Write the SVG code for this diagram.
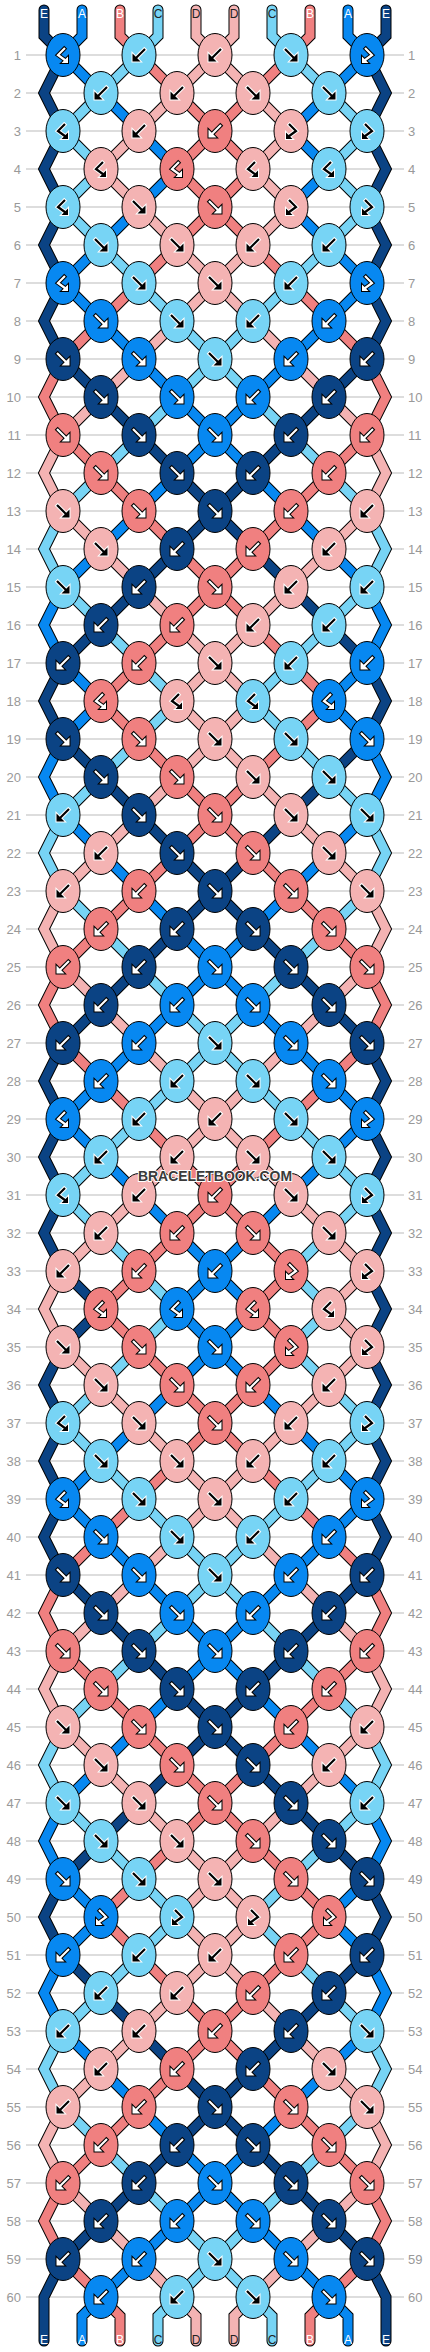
<svg xmlns="http://www.w3.org/2000/svg" xmlns:xlink="http://www.w3.org/1999/xlink" width="430" height="2352" viewBox="0 0 430 2352">
<style>
.o{fill:none;stroke:#000;stroke-width:11;stroke-linecap:round;stroke-linejoin:miter}
.s{fill:none;stroke-width:9;stroke-linecap:round;stroke-linejoin:miter}
.sN{stroke:#0B4384}.sA{stroke:#0788F1}.sB{stroke:#F08080}.sC{stroke:#77D4F5}.sD{stroke:#F4B3B3}
ellipse{stroke:#000;stroke-width:1}
.N{fill:#0B4384}.A{fill:#0788F1}.B{fill:#F08080}.C{fill:#77D4F5}.D{fill:#F4B3B3}
.w{color:#fff;fill:#000;stroke:#000}
.k{color:#000;fill:#fff;stroke:#fff}
.l,.r{font-family:"Liberation Sans",Arial,sans-serif;font-size:13px;fill:#999}
.l{text-anchor:end}
.t{font-family:"Liberation Sans",Arial,sans-serif;font-size:12px;text-anchor:middle}
.tw{fill:#fff}.tk{fill:#222}
</style>
<defs>
<g id="f"><path d="M-6.8,-6.8L3,3" fill="none" stroke-width="4.2"/><path d="M6.5,6.5V-1.5L-1.5,6.5Z" stroke-width="2"/><path d="M-6,-6L3,3" fill="none" stroke="currentColor" stroke-width="2.2"/><path d="M6.5,6.5V-1.5L-1.5,6.5Z" fill="currentColor" stroke="none"/></g>
<g id="b"><path d="M6.8,-6.8L-3,3" fill="none" stroke-width="4.2"/><path d="M-6.5,6.5V-1.5L1.5,6.5Z" stroke-width="2"/><path d="M6,-6L-3,3" fill="none" stroke="currentColor" stroke-width="2.2"/><path d="M-6.5,6.5V-1.5L1.5,6.5Z" fill="currentColor" stroke="none"/></g>
<g id="y"><path d="M2.7,-7.7L-5,0L2.5,5.5" fill="none" stroke-width="4.2"/><path d="M5,8V1.5L-1.5,8Z" stroke-width="2"/><path d="M2,-7L-5,0L2.5,5.5" fill="none" stroke="currentColor" stroke-width="2.2"/><path d="M5,8V1.5L-1.5,8Z" fill="currentColor" stroke="none"/></g>
<g id="x"><path d="M-2.7,-7.7L5,0L-2.5,5.5" fill="none" stroke-width="4.2"/><path d="M-5,8V1.5L1.5,8Z" stroke-width="2"/><path d="M-2,-7L5,0L-2.5,5.5" fill="none" stroke="currentColor" stroke-width="2.2"/><path d="M-5,8V1.5L1.5,8Z" fill="currentColor" stroke="none"/></g>
<polyline id="p0" points="44,10 44,36 63,55 44,93 63,131 44,169 63,207 44,245 63,283 44,321 63,359 101,397 139,435 177,473 215,511 253,549 291,587 329,625 367,663 386,701 367,739 329,777 291,815 253,853 215,891 177,929 139,967 101,1005 63,1043 44,1081 63,1119 44,1157 63,1195 44,1233 63,1271 101,1309 63,1347 44,1385 63,1423 44,1461 63,1499 44,1537 63,1575 101,1613 139,1651 177,1689 215,1727 253,1765 291,1803 329,1841 367,1879 386,1917 367,1955 329,1993 291,2031 253,2069 215,2107 177,2145 139,2183 101,2221 63,2259 44,2297 44,2341"/>
<polyline id="p1" points="82,10 82,36 63,55 101,93 139,131 177,169 139,207 101,245 63,283 101,321 139,359 177,397 215,435 253,473 291,511 329,549 367,587 386,625 367,663 329,701 367,739 386,777 367,815 329,853 291,891 253,929 215,967 177,1005 139,1043 101,1081 63,1119 101,1157 139,1195 177,1233 215,1271 253,1309 215,1347 177,1385 139,1423 101,1461 63,1499 101,1537 139,1575 177,1613 215,1651 253,1689 291,1727 329,1765 367,1803 386,1841 367,1879 329,1917 367,1955 386,1993 367,2031 329,2069 291,2107 253,2145 215,2183 177,2221 139,2259 101,2297 82,2316 82,2341"/>
<polyline id="p2" points="120,10 120,36 139,55 177,93 215,131 253,169 215,207 177,245 139,283 101,321 63,359 44,397 63,435 101,473 139,511 177,549 215,587 253,625 291,663 329,701 291,739 253,777 215,815 177,853 139,891 101,929 63,967 44,1005 63,1043 101,1081 139,1119 177,1157 215,1195 253,1233 291,1271 253,1309 291,1347 253,1385 215,1423 177,1461 139,1499 101,1537 63,1575 44,1613 63,1651 101,1689 139,1727 177,1765 215,1803 253,1841 291,1879 329,1917 291,1955 253,1993 215,2031 177,2069 139,2107 101,2145 63,2183 44,2221 63,2259 101,2297 120,2316 120,2341"/>
<polyline id="p3" points="158,10 158,36 139,55 101,93 63,131 101,169 63,207 101,245 139,283 177,321 215,359 253,397 291,435 329,473 367,511 386,549 367,587 329,625 291,663 253,701 291,739 329,777 367,815 386,853 367,891 329,929 291,967 253,1005 215,1043 177,1081 139,1119 101,1157 63,1195 101,1233 139,1271 177,1309 139,1347 101,1385 63,1423 101,1461 139,1499 177,1537 215,1575 253,1613 291,1651 329,1689 367,1727 386,1765 367,1803 329,1841 291,1879 253,1917 291,1955 329,1993 367,2031 386,2069 367,2107 329,2145 291,2183 253,2221 215,2259 177,2297 158,2316 158,2341"/>
<polyline id="p4" points="196,10 196,36 215,55 253,93 291,131 253,169 291,207 253,245 215,283 177,321 139,359 101,397 63,435 44,473 63,511 101,549 139,587 177,625 215,663 253,701 215,739 177,777 139,815 101,853 63,891 44,929 63,967 101,1005 139,1043 177,1081 215,1119 253,1157 291,1195 329,1233 367,1271 329,1309 367,1347 329,1385 291,1423 253,1461 215,1499 177,1537 139,1575 101,1613 63,1651 44,1689 63,1727 101,1765 139,1803 177,1841 215,1879 253,1917 215,1955 177,1993 139,2031 101,2069 63,2107 44,2145 63,2183 101,2221 139,2259 177,2297 196,2316 196,2341"/>
<polyline id="p5" points="234,10 234,36 215,55 177,93 139,131 101,169 139,207 177,245 215,283 253,321 291,359 329,397 367,435 386,473 367,511 329,549 291,587 253,625 215,663 177,701 215,739 253,777 291,815 329,853 367,891 386,929 367,967 329,1005 291,1043 253,1081 215,1119 177,1157 139,1195 101,1233 63,1271 44,1309 63,1347 101,1385 139,1423 177,1461 215,1499 253,1537 291,1575 329,1613 367,1651 386,1689 367,1727 329,1765 291,1803 253,1841 215,1879 177,1917 215,1955 253,1993 291,2031 329,2069 367,2107 386,2145 367,2183 329,2221 291,2259 253,2297 234,2316 234,2341"/>
<polyline id="p6" points="272,10 272,36 291,55 329,93 367,131 329,169 367,207 329,245 291,283 253,321 215,359 177,397 139,435 101,473 63,511 44,549 63,587 101,625 139,663 177,701 139,739 101,777 63,815 44,853 63,891 101,929 139,967 177,1005 215,1043 253,1081 291,1119 329,1157 367,1195 329,1233 291,1271 329,1309 291,1347 329,1385 367,1423 329,1461 291,1499 253,1537 215,1575 177,1613 139,1651 101,1689 63,1727 44,1765 63,1803 101,1841 139,1879 177,1917 139,1955 101,1993 63,2031 44,2069 63,2107 101,2145 139,2183 177,2221 215,2259 253,2297 272,2316 272,2341"/>
<polyline id="p7" points="310,10 310,36 291,55 253,93 215,131 177,169 215,207 253,245 291,283 329,321 367,359 386,397 367,435 329,473 291,511 253,549 215,587 177,625 139,663 101,701 139,739 177,777 215,815 253,853 291,891 329,929 367,967 386,1005 367,1043 329,1081 291,1119 253,1157 215,1195 177,1233 139,1271 101,1309 139,1347 177,1385 215,1423 253,1461 291,1499 329,1537 367,1575 386,1613 367,1651 329,1689 291,1727 253,1765 215,1803 177,1841 139,1879 101,1917 139,1955 177,1993 215,2031 253,2069 291,2107 329,2145 367,2183 386,2221 367,2259 329,2297 310,2316 310,2341"/>
<polyline id="p8" points="348,10 348,36 367,55 329,93 291,131 329,169 291,207 329,245 367,283 329,321 291,359 253,397 215,435 177,473 139,511 101,549 63,587 44,625 63,663 101,701 63,739 44,777 63,815 101,853 139,891 177,929 215,967 253,1005 291,1043 329,1081 367,1119 329,1157 291,1195 253,1233 215,1271 177,1309 215,1347 253,1385 291,1423 329,1461 367,1499 329,1537 291,1575 253,1613 215,1651 177,1689 139,1727 101,1765 63,1803 44,1841 63,1879 101,1917 63,1955 44,1993 63,2031 101,2069 139,2107 177,2145 215,2183 253,2221 291,2259 329,2297 348,2316 348,2341"/>
<polyline id="p9" points="386,10 386,36 367,55 386,93 367,131 386,169 367,207 386,245 367,283 386,321 367,359 329,397 291,435 253,473 215,511 177,549 139,587 101,625 63,663 44,701 63,739 101,777 139,815 177,853 215,891 253,929 291,967 329,1005 367,1043 386,1081 367,1119 386,1157 367,1195 386,1233 367,1271 386,1309 367,1347 386,1385 367,1423 386,1461 367,1499 386,1537 367,1575 329,1613 291,1651 253,1689 215,1727 177,1765 139,1803 101,1841 63,1879 44,1917 63,1955 101,1993 139,2031 177,2069 215,2107 253,2145 291,2183 329,2221 367,2259 386,2297 386,2341"/>
</defs>
<rect width="430" height="2352" fill="#fff"/>
<g id="grid">
<path fill="none" stroke="#bbb" stroke-width="1" d="M26,55H404M26,93H404M26,131H404M26,169H404M26,207H404M26,245H404M26,283H404M26,321H404M26,359H404M26,397H404M26,435H404M26,473H404M26,511H404M26,549H404M26,587H404M26,625H404M26,663H404M26,701H404M26,739H404M26,777H404M26,815H404M26,853H404M26,891H404M26,929H404M26,967H404M26,1005H404M26,1043H404M26,1081H404M26,1119H404M26,1157H404M26,1195H404M26,1233H404M26,1271H404M26,1309H404M26,1347H404M26,1385H404M26,1423H404M26,1461H404M26,1499H404M26,1537H404M26,1575H404M26,1613H404M26,1651H404M26,1689H404M26,1727H404M26,1765H404M26,1803H404M26,1841H404M26,1879H404M26,1917H404M26,1955H404M26,1993H404M26,2031H404M26,2069H404M26,2107H404M26,2145H404M26,2183H404M26,2221H404M26,2259H404M26,2297H404"/>
<text class="l" x="21" y="59.5">1</text><text class="r" x="408" y="59.5">1</text>
<text class="l" x="21" y="97.5">2</text><text class="r" x="408" y="97.5">2</text>
<text class="l" x="21" y="135.5">3</text><text class="r" x="408" y="135.5">3</text>
<text class="l" x="21" y="173.5">4</text><text class="r" x="408" y="173.5">4</text>
<text class="l" x="21" y="211.5">5</text><text class="r" x="408" y="211.5">5</text>
<text class="l" x="21" y="249.5">6</text><text class="r" x="408" y="249.5">6</text>
<text class="l" x="21" y="287.5">7</text><text class="r" x="408" y="287.5">7</text>
<text class="l" x="21" y="325.5">8</text><text class="r" x="408" y="325.5">8</text>
<text class="l" x="21" y="363.5">9</text><text class="r" x="408" y="363.5">9</text>
<text class="l" x="21" y="401.5">10</text><text class="r" x="408" y="401.5">10</text>
<text class="l" x="21" y="439.5">11</text><text class="r" x="408" y="439.5">11</text>
<text class="l" x="21" y="477.5">12</text><text class="r" x="408" y="477.5">12</text>
<text class="l" x="21" y="515.5">13</text><text class="r" x="408" y="515.5">13</text>
<text class="l" x="21" y="553.5">14</text><text class="r" x="408" y="553.5">14</text>
<text class="l" x="21" y="591.5">15</text><text class="r" x="408" y="591.5">15</text>
<text class="l" x="21" y="629.5">16</text><text class="r" x="408" y="629.5">16</text>
<text class="l" x="21" y="667.5">17</text><text class="r" x="408" y="667.5">17</text>
<text class="l" x="21" y="705.5">18</text><text class="r" x="408" y="705.5">18</text>
<text class="l" x="21" y="743.5">19</text><text class="r" x="408" y="743.5">19</text>
<text class="l" x="21" y="781.5">20</text><text class="r" x="408" y="781.5">20</text>
<text class="l" x="21" y="819.5">21</text><text class="r" x="408" y="819.5">21</text>
<text class="l" x="21" y="857.5">22</text><text class="r" x="408" y="857.5">22</text>
<text class="l" x="21" y="895.5">23</text><text class="r" x="408" y="895.5">23</text>
<text class="l" x="21" y="933.5">24</text><text class="r" x="408" y="933.5">24</text>
<text class="l" x="21" y="971.5">25</text><text class="r" x="408" y="971.5">25</text>
<text class="l" x="21" y="1009.5">26</text><text class="r" x="408" y="1009.5">26</text>
<text class="l" x="21" y="1047.5">27</text><text class="r" x="408" y="1047.5">27</text>
<text class="l" x="21" y="1085.5">28</text><text class="r" x="408" y="1085.5">28</text>
<text class="l" x="21" y="1123.5">29</text><text class="r" x="408" y="1123.5">29</text>
<text class="l" x="21" y="1161.5">30</text><text class="r" x="408" y="1161.5">30</text>
<text class="l" x="21" y="1199.5">31</text><text class="r" x="408" y="1199.5">31</text>
<text class="l" x="21" y="1237.5">32</text><text class="r" x="408" y="1237.5">32</text>
<text class="l" x="21" y="1275.5">33</text><text class="r" x="408" y="1275.5">33</text>
<text class="l" x="21" y="1313.5">34</text><text class="r" x="408" y="1313.5">34</text>
<text class="l" x="21" y="1351.5">35</text><text class="r" x="408" y="1351.5">35</text>
<text class="l" x="21" y="1389.5">36</text><text class="r" x="408" y="1389.5">36</text>
<text class="l" x="21" y="1427.5">37</text><text class="r" x="408" y="1427.5">37</text>
<text class="l" x="21" y="1465.5">38</text><text class="r" x="408" y="1465.5">38</text>
<text class="l" x="21" y="1503.5">39</text><text class="r" x="408" y="1503.5">39</text>
<text class="l" x="21" y="1541.5">40</text><text class="r" x="408" y="1541.5">40</text>
<text class="l" x="21" y="1579.5">41</text><text class="r" x="408" y="1579.5">41</text>
<text class="l" x="21" y="1617.5">42</text><text class="r" x="408" y="1617.5">42</text>
<text class="l" x="21" y="1655.5">43</text><text class="r" x="408" y="1655.5">43</text>
<text class="l" x="21" y="1693.5">44</text><text class="r" x="408" y="1693.5">44</text>
<text class="l" x="21" y="1731.5">45</text><text class="r" x="408" y="1731.5">45</text>
<text class="l" x="21" y="1769.5">46</text><text class="r" x="408" y="1769.5">46</text>
<text class="l" x="21" y="1807.5">47</text><text class="r" x="408" y="1807.5">47</text>
<text class="l" x="21" y="1845.5">48</text><text class="r" x="408" y="1845.5">48</text>
<text class="l" x="21" y="1883.5">49</text><text class="r" x="408" y="1883.5">49</text>
<text class="l" x="21" y="1921.5">50</text><text class="r" x="408" y="1921.5">50</text>
<text class="l" x="21" y="1959.5">51</text><text class="r" x="408" y="1959.5">51</text>
<text class="l" x="21" y="1997.5">52</text><text class="r" x="408" y="1997.5">52</text>
<text class="l" x="21" y="2035.5">53</text><text class="r" x="408" y="2035.5">53</text>
<text class="l" x="21" y="2073.5">54</text><text class="r" x="408" y="2073.5">54</text>
<text class="l" x="21" y="2111.5">55</text><text class="r" x="408" y="2111.5">55</text>
<text class="l" x="21" y="2149.5">56</text><text class="r" x="408" y="2149.5">56</text>
<text class="l" x="21" y="2187.5">57</text><text class="r" x="408" y="2187.5">57</text>
<text class="l" x="21" y="2225.5">58</text><text class="r" x="408" y="2225.5">58</text>
<text class="l" x="21" y="2263.5">59</text><text class="r" x="408" y="2263.5">59</text>
<text class="l" x="21" y="2301.5">60</text><text class="r" x="408" y="2301.5">60</text>
</g>
<g id="connectors">
<use href="#p0" class="o"/><use href="#p1" class="o"/><use href="#p2" class="o"/><use href="#p3" class="o"/><use href="#p4" class="o"/><use href="#p5" class="o"/><use href="#p6" class="o"/><use href="#p7" class="o"/><use href="#p8" class="o"/><use href="#p9" class="o"/>
<use href="#p0" class="s sN"/><use href="#p1" class="s sA"/><use href="#p2" class="s sB"/><use href="#p3" class="s sC"/><use href="#p4" class="s sD"/><use href="#p5" class="s sD"/><use href="#p6" class="s sC"/><use href="#p7" class="s sB"/><use href="#p8" class="s sA"/><use href="#p9" class="s sN"/>
</g>
<g id="labels">
<text class="t tw" x="44" y="17.5">E</text><text class="t tw" x="82" y="17.5">A</text><text class="t tw" x="120" y="17.5">B</text><text class="t tk" x="158" y="17.5">C</text><text class="t tk" x="196" y="17.5">D</text><text class="t tk" x="234" y="17.5">D</text><text class="t tk" x="272" y="17.5">C</text><text class="t tw" x="310" y="17.5">B</text><text class="t tw" x="348" y="17.5">A</text><text class="t tw" x="386" y="17.5">E</text>
<text class="t tw" x="44" y="2344">E</text><text class="t tw" x="82" y="2344">A</text><text class="t tw" x="120" y="2344">B</text><text class="t tk" x="158" y="2344">C</text><text class="t tk" x="196" y="2344">D</text><text class="t tk" x="234" y="2344">D</text><text class="t tk" x="272" y="2344">C</text><text class="t tw" x="310" y="2344">B</text><text class="t tw" x="348" y="2344">A</text><text class="t tw" x="386" y="2344">E</text>
</g>
<g id="knots">
<g id="k1_1" transform="translate(63 55)"><ellipse class="A" rx="17" ry="21.5"/><use href="#y" class="w"/></g>
<g id="k1_2" transform="translate(139 55)"><ellipse class="C" rx="17" ry="21.5"/><use href="#b" class="k"/></g>
<g id="k1_3" transform="translate(215 55)"><ellipse class="D" rx="17" ry="21.5"/><use href="#b" class="k"/></g>
<g id="k1_4" transform="translate(291 55)"><ellipse class="C" rx="17" ry="21.5"/><use href="#f" class="k"/></g>
<g id="k1_5" transform="translate(367 55)"><ellipse class="A" rx="17" ry="21.5"/><use href="#x" class="w"/></g>
<g id="k2_1" transform="translate(101 93)"><ellipse class="C" rx="17" ry="21.5"/><use href="#b" class="k"/></g>
<g id="k2_2" transform="translate(177 93)"><ellipse class="D" rx="17" ry="21.5"/><use href="#b" class="k"/></g>
<g id="k2_3" transform="translate(253 93)"><ellipse class="D" rx="17" ry="21.5"/><use href="#f" class="k"/></g>
<g id="k2_4" transform="translate(329 93)"><ellipse class="C" rx="17" ry="21.5"/><use href="#f" class="k"/></g>
<g id="k3_1" transform="translate(63 131)"><ellipse class="C" rx="17" ry="21.5"/><use href="#y" class="k"/></g>
<g id="k3_2" transform="translate(139 131)"><ellipse class="D" rx="17" ry="21.5"/><use href="#b" class="k"/></g>
<g id="k3_3" transform="translate(215 131)"><ellipse class="B" rx="17" ry="21.5"/><use href="#b" class="w"/></g>
<g id="k3_4" transform="translate(291 131)"><ellipse class="D" rx="17" ry="21.5"/><use href="#x" class="k"/></g>
<g id="k3_5" transform="translate(367 131)"><ellipse class="C" rx="17" ry="21.5"/><use href="#x" class="k"/></g>
<g id="k4_1" transform="translate(101 169)"><ellipse class="D" rx="17" ry="21.5"/><use href="#y" class="k"/></g>
<g id="k4_2" transform="translate(177 169)"><ellipse class="B" rx="17" ry="21.5"/><use href="#y" class="w"/></g>
<g id="k4_3" transform="translate(253 169)"><ellipse class="D" rx="17" ry="21.5"/><use href="#y" class="k"/></g>
<g id="k4_4" transform="translate(329 169)"><ellipse class="C" rx="17" ry="21.5"/><use href="#y" class="k"/></g>
<g id="k5_1" transform="translate(63 207)"><ellipse class="C" rx="17" ry="21.5"/><use href="#y" class="k"/></g>
<g id="k5_2" transform="translate(139 207)"><ellipse class="D" rx="17" ry="21.5"/><use href="#f" class="k"/></g>
<g id="k5_3" transform="translate(215 207)"><ellipse class="B" rx="17" ry="21.5"/><use href="#f" class="w"/></g>
<g id="k5_4" transform="translate(291 207)"><ellipse class="D" rx="17" ry="21.5"/><use href="#x" class="k"/></g>
<g id="k5_5" transform="translate(367 207)"><ellipse class="C" rx="17" ry="21.5"/><use href="#x" class="k"/></g>
<g id="k6_1" transform="translate(101 245)"><ellipse class="C" rx="17" ry="21.5"/><use href="#f" class="k"/></g>
<g id="k6_2" transform="translate(177 245)"><ellipse class="D" rx="17" ry="21.5"/><use href="#f" class="k"/></g>
<g id="k6_3" transform="translate(253 245)"><ellipse class="D" rx="17" ry="21.5"/><use href="#b" class="k"/></g>
<g id="k6_4" transform="translate(329 245)"><ellipse class="C" rx="17" ry="21.5"/><use href="#b" class="k"/></g>
<g id="k7_1" transform="translate(63 283)"><ellipse class="A" rx="17" ry="21.5"/><use href="#y" class="w"/></g>
<g id="k7_2" transform="translate(139 283)"><ellipse class="C" rx="17" ry="21.5"/><use href="#f" class="k"/></g>
<g id="k7_3" transform="translate(215 283)"><ellipse class="D" rx="17" ry="21.5"/><use href="#f" class="k"/></g>
<g id="k7_4" transform="translate(291 283)"><ellipse class="C" rx="17" ry="21.5"/><use href="#b" class="k"/></g>
<g id="k7_5" transform="translate(367 283)"><ellipse class="A" rx="17" ry="21.5"/><use href="#x" class="w"/></g>
<g id="k8_1" transform="translate(101 321)"><ellipse class="A" rx="17" ry="21.5"/><use href="#f" class="w"/></g>
<g id="k8_2" transform="translate(177 321)"><ellipse class="C" rx="17" ry="21.5"/><use href="#f" class="k"/></g>
<g id="k8_3" transform="translate(253 321)"><ellipse class="C" rx="17" ry="21.5"/><use href="#b" class="k"/></g>
<g id="k8_4" transform="translate(329 321)"><ellipse class="A" rx="17" ry="21.5"/><use href="#b" class="w"/></g>
<g id="k9_1" transform="translate(63 359)"><ellipse class="N" rx="17" ry="21.5"/><use href="#f" class="w"/></g>
<g id="k9_2" transform="translate(139 359)"><ellipse class="A" rx="17" ry="21.5"/><use href="#f" class="w"/></g>
<g id="k9_3" transform="translate(215 359)"><ellipse class="C" rx="17" ry="21.5"/><use href="#f" class="k"/></g>
<g id="k9_4" transform="translate(291 359)"><ellipse class="A" rx="17" ry="21.5"/><use href="#b" class="w"/></g>
<g id="k9_5" transform="translate(367 359)"><ellipse class="N" rx="17" ry="21.5"/><use href="#b" class="w"/></g>
<g id="k10_1" transform="translate(101 397)"><ellipse class="N" rx="17" ry="21.5"/><use href="#f" class="w"/></g>
<g id="k10_2" transform="translate(177 397)"><ellipse class="A" rx="17" ry="21.5"/><use href="#f" class="w"/></g>
<g id="k10_3" transform="translate(253 397)"><ellipse class="A" rx="17" ry="21.5"/><use href="#b" class="w"/></g>
<g id="k10_4" transform="translate(329 397)"><ellipse class="N" rx="17" ry="21.5"/><use href="#b" class="w"/></g>
<g id="k11_1" transform="translate(63 435)"><ellipse class="B" rx="17" ry="21.5"/><use href="#f" class="w"/></g>
<g id="k11_2" transform="translate(139 435)"><ellipse class="N" rx="17" ry="21.5"/><use href="#f" class="w"/></g>
<g id="k11_3" transform="translate(215 435)"><ellipse class="A" rx="17" ry="21.5"/><use href="#f" class="w"/></g>
<g id="k11_4" transform="translate(291 435)"><ellipse class="N" rx="17" ry="21.5"/><use href="#b" class="w"/></g>
<g id="k11_5" transform="translate(367 435)"><ellipse class="B" rx="17" ry="21.5"/><use href="#b" class="w"/></g>
<g id="k12_1" transform="translate(101 473)"><ellipse class="B" rx="17" ry="21.5"/><use href="#f" class="w"/></g>
<g id="k12_2" transform="translate(177 473)"><ellipse class="N" rx="17" ry="21.5"/><use href="#f" class="w"/></g>
<g id="k12_3" transform="translate(253 473)"><ellipse class="N" rx="17" ry="21.5"/><use href="#b" class="w"/></g>
<g id="k12_4" transform="translate(329 473)"><ellipse class="B" rx="17" ry="21.5"/><use href="#b" class="w"/></g>
<g id="k13_1" transform="translate(63 511)"><ellipse class="D" rx="17" ry="21.5"/><use href="#f" class="k"/></g>
<g id="k13_2" transform="translate(139 511)"><ellipse class="B" rx="17" ry="21.5"/><use href="#f" class="w"/></g>
<g id="k13_3" transform="translate(215 511)"><ellipse class="N" rx="17" ry="21.5"/><use href="#f" class="w"/></g>
<g id="k13_4" transform="translate(291 511)"><ellipse class="B" rx="17" ry="21.5"/><use href="#b" class="w"/></g>
<g id="k13_5" transform="translate(367 511)"><ellipse class="D" rx="17" ry="21.5"/><use href="#b" class="k"/></g>
<g id="k14_1" transform="translate(101 549)"><ellipse class="D" rx="17" ry="21.5"/><use href="#f" class="k"/></g>
<g id="k14_2" transform="translate(177 549)"><ellipse class="N" rx="17" ry="21.5"/><use href="#b" class="w"/></g>
<g id="k14_3" transform="translate(253 549)"><ellipse class="B" rx="17" ry="21.5"/><use href="#b" class="w"/></g>
<g id="k14_4" transform="translate(329 549)"><ellipse class="D" rx="17" ry="21.5"/><use href="#b" class="k"/></g>
<g id="k15_1" transform="translate(63 587)"><ellipse class="C" rx="17" ry="21.5"/><use href="#f" class="k"/></g>
<g id="k15_2" transform="translate(139 587)"><ellipse class="N" rx="17" ry="21.5"/><use href="#b" class="w"/></g>
<g id="k15_3" transform="translate(215 587)"><ellipse class="B" rx="17" ry="21.5"/><use href="#f" class="w"/></g>
<g id="k15_4" transform="translate(291 587)"><ellipse class="D" rx="17" ry="21.5"/><use href="#b" class="k"/></g>
<g id="k15_5" transform="translate(367 587)"><ellipse class="C" rx="17" ry="21.5"/><use href="#b" class="k"/></g>
<g id="k16_1" transform="translate(101 625)"><ellipse class="N" rx="17" ry="21.5"/><use href="#b" class="w"/></g>
<g id="k16_2" transform="translate(177 625)"><ellipse class="B" rx="17" ry="21.5"/><use href="#b" class="w"/></g>
<g id="k16_3" transform="translate(253 625)"><ellipse class="D" rx="17" ry="21.5"/><use href="#b" class="k"/></g>
<g id="k16_4" transform="translate(329 625)"><ellipse class="C" rx="17" ry="21.5"/><use href="#b" class="k"/></g>
<g id="k17_1" transform="translate(63 663)"><ellipse class="N" rx="17" ry="21.5"/><use href="#b" class="w"/></g>
<g id="k17_2" transform="translate(139 663)"><ellipse class="B" rx="17" ry="21.5"/><use href="#b" class="w"/></g>
<g id="k17_3" transform="translate(215 663)"><ellipse class="D" rx="17" ry="21.5"/><use href="#f" class="k"/></g>
<g id="k17_4" transform="translate(291 663)"><ellipse class="C" rx="17" ry="21.5"/><use href="#b" class="k"/></g>
<g id="k17_5" transform="translate(367 663)"><ellipse class="A" rx="17" ry="21.5"/><use href="#b" class="w"/></g>
<g id="k18_1" transform="translate(101 701)"><ellipse class="B" rx="17" ry="21.5"/><use href="#y" class="w"/></g>
<g id="k18_2" transform="translate(177 701)"><ellipse class="D" rx="17" ry="21.5"/><use href="#y" class="k"/></g>
<g id="k18_3" transform="translate(253 701)"><ellipse class="C" rx="17" ry="21.5"/><use href="#y" class="k"/></g>
<g id="k18_4" transform="translate(329 701)"><ellipse class="A" rx="17" ry="21.5"/><use href="#y" class="w"/></g>
<g id="k19_1" transform="translate(63 739)"><ellipse class="N" rx="17" ry="21.5"/><use href="#f" class="w"/></g>
<g id="k19_2" transform="translate(139 739)"><ellipse class="B" rx="17" ry="21.5"/><use href="#f" class="w"/></g>
<g id="k19_3" transform="translate(215 739)"><ellipse class="D" rx="17" ry="21.5"/><use href="#f" class="k"/></g>
<g id="k19_4" transform="translate(291 739)"><ellipse class="C" rx="17" ry="21.5"/><use href="#f" class="k"/></g>
<g id="k19_5" transform="translate(367 739)"><ellipse class="A" rx="17" ry="21.5"/><use href="#f" class="w"/></g>
<g id="k20_1" transform="translate(101 777)"><ellipse class="N" rx="17" ry="21.5"/><use href="#f" class="w"/></g>
<g id="k20_2" transform="translate(177 777)"><ellipse class="B" rx="17" ry="21.5"/><use href="#f" class="w"/></g>
<g id="k20_3" transform="translate(253 777)"><ellipse class="D" rx="17" ry="21.5"/><use href="#f" class="k"/></g>
<g id="k20_4" transform="translate(329 777)"><ellipse class="C" rx="17" ry="21.5"/><use href="#f" class="k"/></g>
<g id="k21_1" transform="translate(63 815)"><ellipse class="C" rx="17" ry="21.5"/><use href="#b" class="k"/></g>
<g id="k21_2" transform="translate(139 815)"><ellipse class="N" rx="17" ry="21.5"/><use href="#f" class="w"/></g>
<g id="k21_3" transform="translate(215 815)"><ellipse class="B" rx="17" ry="21.5"/><use href="#f" class="w"/></g>
<g id="k21_4" transform="translate(291 815)"><ellipse class="D" rx="17" ry="21.5"/><use href="#f" class="k"/></g>
<g id="k21_5" transform="translate(367 815)"><ellipse class="C" rx="17" ry="21.5"/><use href="#f" class="k"/></g>
<g id="k22_1" transform="translate(101 853)"><ellipse class="D" rx="17" ry="21.5"/><use href="#b" class="k"/></g>
<g id="k22_2" transform="translate(177 853)"><ellipse class="N" rx="17" ry="21.5"/><use href="#f" class="w"/></g>
<g id="k22_3" transform="translate(253 853)"><ellipse class="B" rx="17" ry="21.5"/><use href="#f" class="w"/></g>
<g id="k22_4" transform="translate(329 853)"><ellipse class="D" rx="17" ry="21.5"/><use href="#f" class="k"/></g>
<g id="k23_1" transform="translate(63 891)"><ellipse class="D" rx="17" ry="21.5"/><use href="#b" class="k"/></g>
<g id="k23_2" transform="translate(139 891)"><ellipse class="B" rx="17" ry="21.5"/><use href="#b" class="w"/></g>
<g id="k23_3" transform="translate(215 891)"><ellipse class="N" rx="17" ry="21.5"/><use href="#f" class="w"/></g>
<g id="k23_4" transform="translate(291 891)"><ellipse class="B" rx="17" ry="21.5"/><use href="#f" class="w"/></g>
<g id="k23_5" transform="translate(367 891)"><ellipse class="D" rx="17" ry="21.5"/><use href="#f" class="k"/></g>
<g id="k24_1" transform="translate(101 929)"><ellipse class="B" rx="17" ry="21.5"/><use href="#b" class="w"/></g>
<g id="k24_2" transform="translate(177 929)"><ellipse class="N" rx="17" ry="21.5"/><use href="#b" class="w"/></g>
<g id="k24_3" transform="translate(253 929)"><ellipse class="N" rx="17" ry="21.5"/><use href="#f" class="w"/></g>
<g id="k24_4" transform="translate(329 929)"><ellipse class="B" rx="17" ry="21.5"/><use href="#f" class="w"/></g>
<g id="k25_1" transform="translate(63 967)"><ellipse class="B" rx="17" ry="21.5"/><use href="#b" class="w"/></g>
<g id="k25_2" transform="translate(139 967)"><ellipse class="N" rx="17" ry="21.5"/><use href="#b" class="w"/></g>
<g id="k25_3" transform="translate(215 967)"><ellipse class="A" rx="17" ry="21.5"/><use href="#f" class="w"/></g>
<g id="k25_4" transform="translate(291 967)"><ellipse class="N" rx="17" ry="21.5"/><use href="#f" class="w"/></g>
<g id="k25_5" transform="translate(367 967)"><ellipse class="B" rx="17" ry="21.5"/><use href="#f" class="w"/></g>
<g id="k26_1" transform="translate(101 1005)"><ellipse class="N" rx="17" ry="21.5"/><use href="#b" class="w"/></g>
<g id="k26_2" transform="translate(177 1005)"><ellipse class="A" rx="17" ry="21.5"/><use href="#b" class="w"/></g>
<g id="k26_3" transform="translate(253 1005)"><ellipse class="A" rx="17" ry="21.5"/><use href="#f" class="w"/></g>
<g id="k26_4" transform="translate(329 1005)"><ellipse class="N" rx="17" ry="21.5"/><use href="#f" class="w"/></g>
<g id="k27_1" transform="translate(63 1043)"><ellipse class="N" rx="17" ry="21.5"/><use href="#b" class="w"/></g>
<g id="k27_2" transform="translate(139 1043)"><ellipse class="A" rx="17" ry="21.5"/><use href="#b" class="w"/></g>
<g id="k27_3" transform="translate(215 1043)"><ellipse class="C" rx="17" ry="21.5"/><use href="#f" class="k"/></g>
<g id="k27_4" transform="translate(291 1043)"><ellipse class="A" rx="17" ry="21.5"/><use href="#f" class="w"/></g>
<g id="k27_5" transform="translate(367 1043)"><ellipse class="N" rx="17" ry="21.5"/><use href="#f" class="w"/></g>
<g id="k28_1" transform="translate(101 1081)"><ellipse class="A" rx="17" ry="21.5"/><use href="#b" class="w"/></g>
<g id="k28_2" transform="translate(177 1081)"><ellipse class="C" rx="17" ry="21.5"/><use href="#b" class="k"/></g>
<g id="k28_3" transform="translate(253 1081)"><ellipse class="C" rx="17" ry="21.5"/><use href="#f" class="k"/></g>
<g id="k28_4" transform="translate(329 1081)"><ellipse class="A" rx="17" ry="21.5"/><use href="#f" class="w"/></g>
<g id="k29_1" transform="translate(63 1119)"><ellipse class="A" rx="17" ry="21.5"/><use href="#y" class="w"/></g>
<g id="k29_2" transform="translate(139 1119)"><ellipse class="C" rx="17" ry="21.5"/><use href="#b" class="k"/></g>
<g id="k29_3" transform="translate(215 1119)"><ellipse class="D" rx="17" ry="21.5"/><use href="#b" class="k"/></g>
<g id="k29_4" transform="translate(291 1119)"><ellipse class="C" rx="17" ry="21.5"/><use href="#f" class="k"/></g>
<g id="k29_5" transform="translate(367 1119)"><ellipse class="A" rx="17" ry="21.5"/><use href="#x" class="w"/></g>
<g id="k30_1" transform="translate(101 1157)"><ellipse class="C" rx="17" ry="21.5"/><use href="#b" class="k"/></g>
<g id="k30_2" transform="translate(177 1157)"><ellipse class="D" rx="17" ry="21.5"/><use href="#b" class="k"/></g>
<g id="k30_3" transform="translate(253 1157)"><ellipse class="D" rx="17" ry="21.5"/><use href="#f" class="k"/></g>
<g id="k30_4" transform="translate(329 1157)"><ellipse class="C" rx="17" ry="21.5"/><use href="#f" class="k"/></g>
<g id="k31_1" transform="translate(63 1195)"><ellipse class="C" rx="17" ry="21.5"/><use href="#y" class="k"/></g>
<g id="k31_2" transform="translate(139 1195)"><ellipse class="D" rx="17" ry="21.5"/><use href="#b" class="k"/></g>
<g id="k31_3" transform="translate(215 1195)"><ellipse class="B" rx="17" ry="21.5"/><use href="#b" class="w"/></g>
<g id="k31_4" transform="translate(291 1195)"><ellipse class="D" rx="17" ry="21.5"/><use href="#f" class="k"/></g>
<g id="k31_5" transform="translate(367 1195)"><ellipse class="C" rx="17" ry="21.5"/><use href="#x" class="k"/></g>
<g id="k32_1" transform="translate(101 1233)"><ellipse class="D" rx="17" ry="21.5"/><use href="#b" class="k"/></g>
<g id="k32_2" transform="translate(177 1233)"><ellipse class="B" rx="17" ry="21.5"/><use href="#b" class="w"/></g>
<g id="k32_3" transform="translate(253 1233)"><ellipse class="B" rx="17" ry="21.5"/><use href="#f" class="w"/></g>
<g id="k32_4" transform="translate(329 1233)"><ellipse class="D" rx="17" ry="21.5"/><use href="#f" class="k"/></g>
<g id="k33_1" transform="translate(63 1271)"><ellipse class="D" rx="17" ry="21.5"/><use href="#b" class="k"/></g>
<g id="k33_2" transform="translate(139 1271)"><ellipse class="B" rx="17" ry="21.5"/><use href="#b" class="w"/></g>
<g id="k33_3" transform="translate(215 1271)"><ellipse class="A" rx="17" ry="21.5"/><use href="#b" class="w"/></g>
<g id="k33_4" transform="translate(291 1271)"><ellipse class="B" rx="17" ry="21.5"/><use href="#x" class="w"/></g>
<g id="k33_5" transform="translate(367 1271)"><ellipse class="D" rx="17" ry="21.5"/><use href="#x" class="k"/></g>
<g id="k34_1" transform="translate(101 1309)"><ellipse class="B" rx="17" ry="21.5"/><use href="#y" class="w"/></g>
<g id="k34_2" transform="translate(177 1309)"><ellipse class="A" rx="17" ry="21.5"/><use href="#y" class="w"/></g>
<g id="k34_3" transform="translate(253 1309)"><ellipse class="B" rx="17" ry="21.5"/><use href="#y" class="w"/></g>
<g id="k34_4" transform="translate(329 1309)"><ellipse class="D" rx="17" ry="21.5"/><use href="#y" class="k"/></g>
<g id="k35_1" transform="translate(63 1347)"><ellipse class="D" rx="17" ry="21.5"/><use href="#f" class="k"/></g>
<g id="k35_2" transform="translate(139 1347)"><ellipse class="B" rx="17" ry="21.5"/><use href="#f" class="w"/></g>
<g id="k35_3" transform="translate(215 1347)"><ellipse class="A" rx="17" ry="21.5"/><use href="#f" class="w"/></g>
<g id="k35_4" transform="translate(291 1347)"><ellipse class="B" rx="17" ry="21.5"/><use href="#x" class="w"/></g>
<g id="k35_5" transform="translate(367 1347)"><ellipse class="D" rx="17" ry="21.5"/><use href="#x" class="k"/></g>
<g id="k36_1" transform="translate(101 1385)"><ellipse class="D" rx="17" ry="21.5"/><use href="#f" class="k"/></g>
<g id="k36_2" transform="translate(177 1385)"><ellipse class="B" rx="17" ry="21.5"/><use href="#f" class="w"/></g>
<g id="k36_3" transform="translate(253 1385)"><ellipse class="B" rx="17" ry="21.5"/><use href="#b" class="w"/></g>
<g id="k36_4" transform="translate(329 1385)"><ellipse class="D" rx="17" ry="21.5"/><use href="#b" class="k"/></g>
<g id="k37_1" transform="translate(63 1423)"><ellipse class="C" rx="17" ry="21.5"/><use href="#y" class="k"/></g>
<g id="k37_2" transform="translate(139 1423)"><ellipse class="D" rx="17" ry="21.5"/><use href="#f" class="k"/></g>
<g id="k37_3" transform="translate(215 1423)"><ellipse class="B" rx="17" ry="21.5"/><use href="#f" class="w"/></g>
<g id="k37_4" transform="translate(291 1423)"><ellipse class="D" rx="17" ry="21.5"/><use href="#b" class="k"/></g>
<g id="k37_5" transform="translate(367 1423)"><ellipse class="C" rx="17" ry="21.5"/><use href="#x" class="k"/></g>
<g id="k38_1" transform="translate(101 1461)"><ellipse class="C" rx="17" ry="21.5"/><use href="#f" class="k"/></g>
<g id="k38_2" transform="translate(177 1461)"><ellipse class="D" rx="17" ry="21.5"/><use href="#f" class="k"/></g>
<g id="k38_3" transform="translate(253 1461)"><ellipse class="D" rx="17" ry="21.5"/><use href="#b" class="k"/></g>
<g id="k38_4" transform="translate(329 1461)"><ellipse class="C" rx="17" ry="21.5"/><use href="#b" class="k"/></g>
<g id="k39_1" transform="translate(63 1499)"><ellipse class="A" rx="17" ry="21.5"/><use href="#y" class="w"/></g>
<g id="k39_2" transform="translate(139 1499)"><ellipse class="C" rx="17" ry="21.5"/><use href="#f" class="k"/></g>
<g id="k39_3" transform="translate(215 1499)"><ellipse class="D" rx="17" ry="21.5"/><use href="#f" class="k"/></g>
<g id="k39_4" transform="translate(291 1499)"><ellipse class="C" rx="17" ry="21.5"/><use href="#b" class="k"/></g>
<g id="k39_5" transform="translate(367 1499)"><ellipse class="A" rx="17" ry="21.5"/><use href="#x" class="w"/></g>
<g id="k40_1" transform="translate(101 1537)"><ellipse class="A" rx="17" ry="21.5"/><use href="#f" class="w"/></g>
<g id="k40_2" transform="translate(177 1537)"><ellipse class="C" rx="17" ry="21.5"/><use href="#f" class="k"/></g>
<g id="k40_3" transform="translate(253 1537)"><ellipse class="C" rx="17" ry="21.5"/><use href="#b" class="k"/></g>
<g id="k40_4" transform="translate(329 1537)"><ellipse class="A" rx="17" ry="21.5"/><use href="#b" class="w"/></g>
<g id="k41_1" transform="translate(63 1575)"><ellipse class="N" rx="17" ry="21.5"/><use href="#f" class="w"/></g>
<g id="k41_2" transform="translate(139 1575)"><ellipse class="A" rx="17" ry="21.5"/><use href="#f" class="w"/></g>
<g id="k41_3" transform="translate(215 1575)"><ellipse class="C" rx="17" ry="21.5"/><use href="#f" class="k"/></g>
<g id="k41_4" transform="translate(291 1575)"><ellipse class="A" rx="17" ry="21.5"/><use href="#b" class="w"/></g>
<g id="k41_5" transform="translate(367 1575)"><ellipse class="N" rx="17" ry="21.5"/><use href="#b" class="w"/></g>
<g id="k42_1" transform="translate(101 1613)"><ellipse class="N" rx="17" ry="21.5"/><use href="#f" class="w"/></g>
<g id="k42_2" transform="translate(177 1613)"><ellipse class="A" rx="17" ry="21.5"/><use href="#f" class="w"/></g>
<g id="k42_3" transform="translate(253 1613)"><ellipse class="A" rx="17" ry="21.5"/><use href="#b" class="w"/></g>
<g id="k42_4" transform="translate(329 1613)"><ellipse class="N" rx="17" ry="21.5"/><use href="#b" class="w"/></g>
<g id="k43_1" transform="translate(63 1651)"><ellipse class="B" rx="17" ry="21.5"/><use href="#f" class="w"/></g>
<g id="k43_2" transform="translate(139 1651)"><ellipse class="N" rx="17" ry="21.5"/><use href="#f" class="w"/></g>
<g id="k43_3" transform="translate(215 1651)"><ellipse class="A" rx="17" ry="21.5"/><use href="#f" class="w"/></g>
<g id="k43_4" transform="translate(291 1651)"><ellipse class="N" rx="17" ry="21.5"/><use href="#b" class="w"/></g>
<g id="k43_5" transform="translate(367 1651)"><ellipse class="B" rx="17" ry="21.5"/><use href="#b" class="w"/></g>
<g id="k44_1" transform="translate(101 1689)"><ellipse class="B" rx="17" ry="21.5"/><use href="#f" class="w"/></g>
<g id="k44_2" transform="translate(177 1689)"><ellipse class="N" rx="17" ry="21.5"/><use href="#f" class="w"/></g>
<g id="k44_3" transform="translate(253 1689)"><ellipse class="N" rx="17" ry="21.5"/><use href="#b" class="w"/></g>
<g id="k44_4" transform="translate(329 1689)"><ellipse class="B" rx="17" ry="21.5"/><use href="#b" class="w"/></g>
<g id="k45_1" transform="translate(63 1727)"><ellipse class="D" rx="17" ry="21.5"/><use href="#f" class="k"/></g>
<g id="k45_2" transform="translate(139 1727)"><ellipse class="B" rx="17" ry="21.5"/><use href="#f" class="w"/></g>
<g id="k45_3" transform="translate(215 1727)"><ellipse class="N" rx="17" ry="21.5"/><use href="#f" class="w"/></g>
<g id="k45_4" transform="translate(291 1727)"><ellipse class="B" rx="17" ry="21.5"/><use href="#b" class="w"/></g>
<g id="k45_5" transform="translate(367 1727)"><ellipse class="D" rx="17" ry="21.5"/><use href="#b" class="k"/></g>
<g id="k46_1" transform="translate(101 1765)"><ellipse class="D" rx="17" ry="21.5"/><use href="#f" class="k"/></g>
<g id="k46_2" transform="translate(177 1765)"><ellipse class="B" rx="17" ry="21.5"/><use href="#f" class="w"/></g>
<g id="k46_3" transform="translate(253 1765)"><ellipse class="N" rx="17" ry="21.5"/><use href="#f" class="w"/></g>
<g id="k46_4" transform="translate(329 1765)"><ellipse class="D" rx="17" ry="21.5"/><use href="#b" class="k"/></g>
<g id="k47_1" transform="translate(63 1803)"><ellipse class="C" rx="17" ry="21.5"/><use href="#f" class="k"/></g>
<g id="k47_2" transform="translate(139 1803)"><ellipse class="D" rx="17" ry="21.5"/><use href="#f" class="k"/></g>
<g id="k47_3" transform="translate(215 1803)"><ellipse class="B" rx="17" ry="21.5"/><use href="#f" class="w"/></g>
<g id="k47_4" transform="translate(291 1803)"><ellipse class="N" rx="17" ry="21.5"/><use href="#f" class="w"/></g>
<g id="k47_5" transform="translate(367 1803)"><ellipse class="C" rx="17" ry="21.5"/><use href="#b" class="k"/></g>
<g id="k48_1" transform="translate(101 1841)"><ellipse class="C" rx="17" ry="21.5"/><use href="#f" class="k"/></g>
<g id="k48_2" transform="translate(177 1841)"><ellipse class="D" rx="17" ry="21.5"/><use href="#f" class="k"/></g>
<g id="k48_3" transform="translate(253 1841)"><ellipse class="B" rx="17" ry="21.5"/><use href="#f" class="w"/></g>
<g id="k48_4" transform="translate(329 1841)"><ellipse class="N" rx="17" ry="21.5"/><use href="#f" class="w"/></g>
<g id="k49_1" transform="translate(63 1879)"><ellipse class="A" rx="17" ry="21.5"/><use href="#f" class="w"/></g>
<g id="k49_2" transform="translate(139 1879)"><ellipse class="C" rx="17" ry="21.5"/><use href="#f" class="k"/></g>
<g id="k49_3" transform="translate(215 1879)"><ellipse class="D" rx="17" ry="21.5"/><use href="#f" class="k"/></g>
<g id="k49_4" transform="translate(291 1879)"><ellipse class="B" rx="17" ry="21.5"/><use href="#f" class="w"/></g>
<g id="k49_5" transform="translate(367 1879)"><ellipse class="N" rx="17" ry="21.5"/><use href="#f" class="w"/></g>
<g id="k50_1" transform="translate(101 1917)"><ellipse class="A" rx="17" ry="21.5"/><use href="#x" class="w"/></g>
<g id="k50_2" transform="translate(177 1917)"><ellipse class="C" rx="17" ry="21.5"/><use href="#x" class="k"/></g>
<g id="k50_3" transform="translate(253 1917)"><ellipse class="D" rx="17" ry="21.5"/><use href="#x" class="k"/></g>
<g id="k50_4" transform="translate(329 1917)"><ellipse class="B" rx="17" ry="21.5"/><use href="#x" class="w"/></g>
<g id="k51_1" transform="translate(63 1955)"><ellipse class="A" rx="17" ry="21.5"/><use href="#b" class="w"/></g>
<g id="k51_2" transform="translate(139 1955)"><ellipse class="C" rx="17" ry="21.5"/><use href="#b" class="k"/></g>
<g id="k51_3" transform="translate(215 1955)"><ellipse class="D" rx="17" ry="21.5"/><use href="#b" class="k"/></g>
<g id="k51_4" transform="translate(291 1955)"><ellipse class="B" rx="17" ry="21.5"/><use href="#b" class="w"/></g>
<g id="k51_5" transform="translate(367 1955)"><ellipse class="N" rx="17" ry="21.5"/><use href="#b" class="w"/></g>
<g id="k52_1" transform="translate(101 1993)"><ellipse class="C" rx="17" ry="21.5"/><use href="#b" class="k"/></g>
<g id="k52_2" transform="translate(177 1993)"><ellipse class="D" rx="17" ry="21.5"/><use href="#b" class="k"/></g>
<g id="k52_3" transform="translate(253 1993)"><ellipse class="B" rx="17" ry="21.5"/><use href="#b" class="w"/></g>
<g id="k52_4" transform="translate(329 1993)"><ellipse class="N" rx="17" ry="21.5"/><use href="#b" class="w"/></g>
<g id="k53_1" transform="translate(63 2031)"><ellipse class="C" rx="17" ry="21.5"/><use href="#b" class="k"/></g>
<g id="k53_2" transform="translate(139 2031)"><ellipse class="D" rx="17" ry="21.5"/><use href="#b" class="k"/></g>
<g id="k53_3" transform="translate(215 2031)"><ellipse class="B" rx="17" ry="21.5"/><use href="#b" class="w"/></g>
<g id="k53_4" transform="translate(291 2031)"><ellipse class="N" rx="17" ry="21.5"/><use href="#b" class="w"/></g>
<g id="k53_5" transform="translate(367 2031)"><ellipse class="C" rx="17" ry="21.5"/><use href="#f" class="k"/></g>
<g id="k54_1" transform="translate(101 2069)"><ellipse class="D" rx="17" ry="21.5"/><use href="#b" class="k"/></g>
<g id="k54_2" transform="translate(177 2069)"><ellipse class="B" rx="17" ry="21.5"/><use href="#b" class="w"/></g>
<g id="k54_3" transform="translate(253 2069)"><ellipse class="N" rx="17" ry="21.5"/><use href="#b" class="w"/></g>
<g id="k54_4" transform="translate(329 2069)"><ellipse class="D" rx="17" ry="21.5"/><use href="#f" class="k"/></g>
<g id="k55_1" transform="translate(63 2107)"><ellipse class="D" rx="17" ry="21.5"/><use href="#b" class="k"/></g>
<g id="k55_2" transform="translate(139 2107)"><ellipse class="B" rx="17" ry="21.5"/><use href="#b" class="w"/></g>
<g id="k55_3" transform="translate(215 2107)"><ellipse class="N" rx="17" ry="21.5"/><use href="#f" class="w"/></g>
<g id="k55_4" transform="translate(291 2107)"><ellipse class="B" rx="17" ry="21.5"/><use href="#f" class="w"/></g>
<g id="k55_5" transform="translate(367 2107)"><ellipse class="D" rx="17" ry="21.5"/><use href="#f" class="k"/></g>
<g id="k56_1" transform="translate(101 2145)"><ellipse class="B" rx="17" ry="21.5"/><use href="#b" class="w"/></g>
<g id="k56_2" transform="translate(177 2145)"><ellipse class="N" rx="17" ry="21.5"/><use href="#b" class="w"/></g>
<g id="k56_3" transform="translate(253 2145)"><ellipse class="N" rx="17" ry="21.5"/><use href="#f" class="w"/></g>
<g id="k56_4" transform="translate(329 2145)"><ellipse class="B" rx="17" ry="21.5"/><use href="#f" class="w"/></g>
<g id="k57_1" transform="translate(63 2183)"><ellipse class="B" rx="17" ry="21.5"/><use href="#b" class="w"/></g>
<g id="k57_2" transform="translate(139 2183)"><ellipse class="N" rx="17" ry="21.5"/><use href="#b" class="w"/></g>
<g id="k57_3" transform="translate(215 2183)"><ellipse class="A" rx="17" ry="21.5"/><use href="#f" class="w"/></g>
<g id="k57_4" transform="translate(291 2183)"><ellipse class="N" rx="17" ry="21.5"/><use href="#f" class="w"/></g>
<g id="k57_5" transform="translate(367 2183)"><ellipse class="B" rx="17" ry="21.5"/><use href="#f" class="w"/></g>
<g id="k58_1" transform="translate(101 2221)"><ellipse class="N" rx="17" ry="21.5"/><use href="#b" class="w"/></g>
<g id="k58_2" transform="translate(177 2221)"><ellipse class="A" rx="17" ry="21.5"/><use href="#b" class="w"/></g>
<g id="k58_3" transform="translate(253 2221)"><ellipse class="A" rx="17" ry="21.5"/><use href="#f" class="w"/></g>
<g id="k58_4" transform="translate(329 2221)"><ellipse class="N" rx="17" ry="21.5"/><use href="#f" class="w"/></g>
<g id="k59_1" transform="translate(63 2259)"><ellipse class="N" rx="17" ry="21.5"/><use href="#b" class="w"/></g>
<g id="k59_2" transform="translate(139 2259)"><ellipse class="A" rx="17" ry="21.5"/><use href="#b" class="w"/></g>
<g id="k59_3" transform="translate(215 2259)"><ellipse class="C" rx="17" ry="21.5"/><use href="#f" class="k"/></g>
<g id="k59_4" transform="translate(291 2259)"><ellipse class="A" rx="17" ry="21.5"/><use href="#f" class="w"/></g>
<g id="k59_5" transform="translate(367 2259)"><ellipse class="N" rx="17" ry="21.5"/><use href="#f" class="w"/></g>
<g id="k60_1" transform="translate(101 2297)"><ellipse class="A" rx="17" ry="21.5"/><use href="#b" class="w"/></g>
<g id="k60_2" transform="translate(177 2297)"><ellipse class="C" rx="17" ry="21.5"/><use href="#b" class="k"/></g>
<g id="k60_3" transform="translate(253 2297)"><ellipse class="C" rx="17" ry="21.5"/><use href="#f" class="k"/></g>
<g id="k60_4" transform="translate(329 2297)"><ellipse class="A" rx="17" ry="21.5"/><use href="#f" class="w"/></g>
</g>
<text id="watermark" x="215" y="1181" text-anchor="middle" font-family="Liberation Sans, Arial, sans-serif" font-weight="bold" font-size="15" fill="#3a3a3a" stroke="#fff" stroke-width="2" paint-order="stroke" textLength="154" lengthAdjust="spacingAndGlyphs">BRACELETBOOK.COM</text>
</svg>
